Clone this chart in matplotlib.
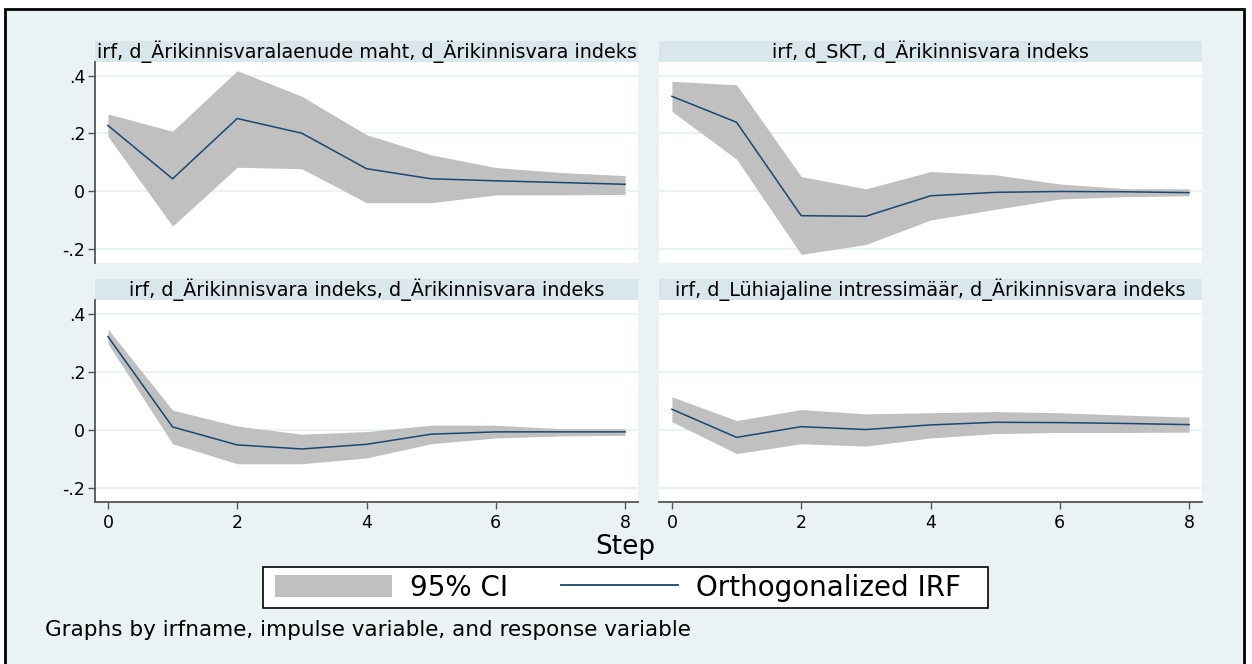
import matplotlib
matplotlib.use("Agg")
import matplotlib.pyplot as plt
from matplotlib.patches import Rectangle, Patch
from matplotlib.lines import Line2D

# Impulse-response steps and the four IRF panels (orthogonalized, 95% CI).
steps = [0, 1, 2, 3, 4, 5, 6, 7, 8]

titles = [
    "irf, d_Ärikinnisvaralaenude maht, d_Ärikinnisvara indeks",
    "irf, d_SKT, d_Ärikinnisvara indeks",
    "irf, d_Ärikinnisvara indeks, d_Ärikinnisvara indeks",
    "irf, d_Lühiajaline intressimäär, d_Ärikinnisvara indeks",
]

irf_loan = [0.227, 0.042, 0.251, 0.200, 0.077, 0.042, 0.035, 0.029, 0.023]
upper_loan = [0.267, 0.207, 0.417, 0.328, 0.195, 0.125, 0.081, 0.064, 0.053]
lower_loan = [0.189, -0.122, 0.082, 0.077, -0.041, -0.041, -0.014, -0.014, -0.012]

irf_gdp = [0.328, 0.238, -0.086, -0.088, -0.017, -0.005, -0.002, -0.003, -0.006]
upper_gdp = [0.380, 0.368, 0.050, 0.007, 0.067, 0.056, 0.024, 0.008, 0.007]
lower_gdp = [0.276, 0.110, -0.220, -0.186, -0.101, -0.064, -0.028, -0.020, -0.017]

irf_own = [0.321, 0.009, -0.053, -0.067, -0.051, -0.016, -0.008, -0.008, -0.008]
upper_own = [0.347, 0.067, 0.012, -0.016, -0.007, 0.015, 0.015, 0.003, 0.003]
lower_own = [0.296, -0.049, -0.118, -0.118, -0.098, -0.049, -0.029, -0.022, -0.020]

irf_rate = [0.070, -0.027, 0.010, 0.000, 0.016, 0.025, 0.024, 0.021, 0.017]
upper_rate = [0.113, 0.031, 0.069, 0.054, 0.058, 0.062, 0.058, 0.050, 0.043]
lower_rate = [0.027, -0.083, -0.049, -0.057, -0.029, -0.014, -0.010, -0.010, -0.009]

yticks = [-0.2, 0.0, 0.2, 0.4]
ytick_labels = ["-.2", "0", ".2", ".4"]
xticks = [0, 2, 4, 6, 8]

# Stata s2color-like palette
BG = "#EAF2F3"
STRIP = "#D9E6EB"
CI_GRAY = "#C0C0C0"
NAVY = "#1A476F"
AXIS = "#555555"

plt.rcParams["font.family"] = "DejaVu Sans"

W, H = 1252, 664
fig = plt.figure(figsize=(W / 100, H / 100), dpi=100)
fig.patch.set_facecolor("white")


def rect(x0, y0, x1, y1):
    # pixel box (top-left origin) -> figure fraction
    return [x0 / W, 1 - y1 / H, (x1 - x0) / W, (y1 - y0) / H]


# graph region with black frame, kept behind the panels
fig.patches.append(Rectangle((5 / W, -0.05), (1244 - 5) / W, 1 - 9 / H + 0.05,
                             transform=fig.transFigure, facecolor=BG,
                             edgecolor="black", linewidth=2, zorder=-10))

panels = [
    (irf_loan, lower_loan, upper_loan, (95, 62, 638, 263), False, True),
    (irf_gdp, lower_gdp, upper_gdp, (659, 62, 1202, 263), False, False),
    (irf_own, lower_own, upper_own, (95, 300, 638, 502), True, True),
    (irf_rate, lower_rate, upper_rate, (659, 300, 1202, 502), True, False),
]

for (irf, lo, hi, box, show_x, show_y), title in zip(panels, titles):
    x0, y0, x1, y1 = box
    ax = fig.add_axes(rect(x0, y0, x1, y1))
    ax.set_facecolor("white")
    ax.fill_between(steps, lo, hi, color=CI_GRAY, linewidth=0, zorder=2)
    ax.plot(steps, irf, color=NAVY, linewidth=1.1, zorder=3)

    ax.set_xlim(-0.2, 8.2)
    ax.set_ylim(-0.25, 0.447)
    ax.set_yticks(yticks)
    ax.set_yticklabels(ytick_labels)
    ax.set_xticks(xticks)
    ax.yaxis.grid(True, color=BG, linewidth=1.6, zorder=1)
    ax.set_axisbelow(True)

    for side in ["top", "right"]:
        ax.spines[side].set_visible(False)
    ax.spines["left"].set_visible(show_y)
    ax.spines["bottom"].set_visible(show_x)
    for side in ["left", "bottom"]:
        ax.spines[side].set_color(AXIS)
        ax.spines[side].set_linewidth(1.3)

    ax.tick_params(axis="y", left=show_y, labelleft=show_y, length=5,
                   width=1, color=AXIS, labelsize=12.5, pad=2)
    ax.tick_params(axis="x", bottom=show_x, labelbottom=show_x, length=5,
                   width=1, color=AXIS, labelsize=12.5, pad=4)

    # title strip above each panel
    fig.patches.append(Rectangle((x0 / W, 1 - y0 / H), (x1 - x0) / W, 21 / H,
                                 transform=fig.transFigure, facecolor=STRIP,
                                 edgecolor="none", zorder=-5))
    fig.text((x0 + x1) / 2 / W, 1 - (y0 - 10.5) / H, title, ha="center",
             va="center", fontsize=13.8, color="black")

fig.text(625 / W, 1 - 547 / H, "Step", ha="center", va="center", fontsize=19)

# legend box drawn separately so its padding can be set on each side
fig.patches.append(Rectangle((263 / W, 1 - 608 / H), (988 - 263) / W, 41 / H,
                             transform=fig.transFigure, facecolor="white",
                             edgecolor="black", linewidth=1.2, zorder=4))
handles = [Patch(facecolor=CI_GRAY, edgecolor="none"),
           Line2D([], [], color=NAVY, linewidth=1.3)]
fig.legend(handles, ["95% CI", "Orthogonalized IRF"], ncol=2,
           loc="center", bbox_to_anchor=(618 / W, 1 - 587.5 / H),
           fontsize=20, frameon=False, handlelength=4.2, handleheight=0.85,
           handletextpad=0.65, columnspacing=1.9, borderpad=0.2)

fig.text(45 / W, 1 - 630 / H, "Graphs by irfname, impulse variable, and response variable",
         ha="left", va="center", fontsize=15.5)

fig.savefig("out.png", dpi=100)
